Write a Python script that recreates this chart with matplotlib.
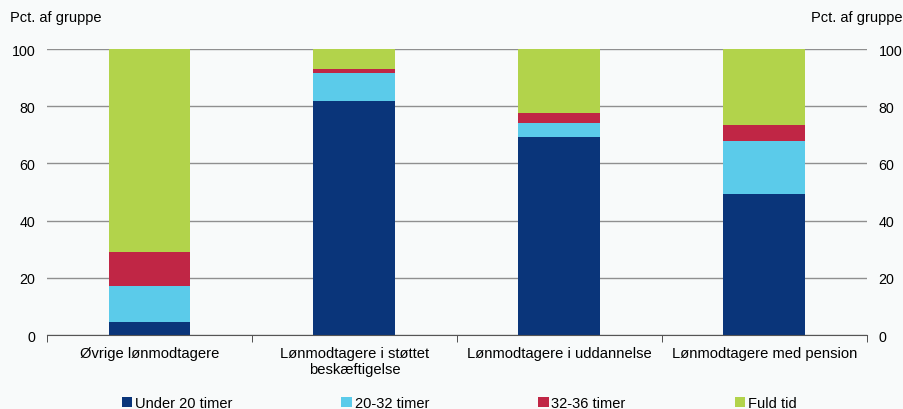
import matplotlib
matplotlib.use("Agg")
import matplotlib.pyplot as plt
from matplotlib.patches import Patch
import numpy as np

plt.rcParams['font.family'] = ['Liberation Sans', 'DejaVu Sans']

categories = ["Øvrige lønmodtagere", "Lønmodtagere i støttet\nbeskæftigelse",
              "Lønmodtagere i uddannelse", "Lønmodtagere med pension"]
series_names = ["Under 20 timer", "20-32 timer", "32-36 timer", "Fuld tid"]
under20 = [4.5, 81.8, 69.1, 49.3]
t20_32 = [12.6, 9.8, 5.1, 18.6]
t32_36 = [11.9, 1.4, 3.4, 5.5]
fuld_tid = [71.0, 7.0, 22.4, 26.6]
colours = ["#0a357a", "#5bcbea", "#c02645", "#b2d34b"]

bg = "#f8fafa"
fig = plt.figure(figsize=(9.04, 4.10), dpi=100, facecolor=bg)
ax = fig.add_axes([0.052, 0.180, 0.907, 0.698], facecolor=bg)

x = np.arange(len(categories))
bottom = np.zeros(len(categories))
for vals, col in zip([under20, t20_32, t32_36, fuld_tid], colours):
    ax.bar(x, vals, width=0.4, bottom=bottom, color=col, zorder=3)
    bottom += np.array(vals)

ax.set_xlim(-0.5, len(categories) - 0.5)
ax.set_ylim(0, 100)
ax.set_yticks(np.arange(0, 101, 20))
ax.grid(axis='y', color='#8f8f8f', linewidth=1.0, zorder=0)
for s in ['top', 'left', 'right']:
    ax.spines[s].set_visible(False)
ax.spines['bottom'].set_color('#555555')
ax.spines['bottom'].set_zorder(4)

ax.set_xticks(x)
ax.set_xticklabels(categories, fontsize=10.6)
ax.set_xticks(np.arange(-0.5, len(categories), 1), minor=True)
ax.tick_params(axis='x', which='major', length=0, pad=7.5)
ax.tick_params(axis='x', which='minor', length=5, direction='out', color='#333333')
ax.tick_params(axis='y', which='both', length=0, labelsize=10.3, labelright=True,
               pad=8.5)

fig.text(0.011, 0.955, "Pct. af gruppe", fontsize=10.5, ha='left', va='center')
fig.text(0.998, 0.955, "Pct. af gruppe", fontsize=10.5, ha='right', va='center')

handles = [Patch(facecolor=c, edgecolor='none') for c in colours]
fig.legend(handles, series_names, ncol=4, loc='center left',
           bbox_to_anchor=(0.128, 0.015, 0.76, 0.0), mode='expand',
           frameon=False, fontsize=10.5, handlelength=0.7, handleheight=0.7,
           handletextpad=0.2, borderaxespad=0)

fig.savefig("out.png", dpi=100, facecolor=bg)
